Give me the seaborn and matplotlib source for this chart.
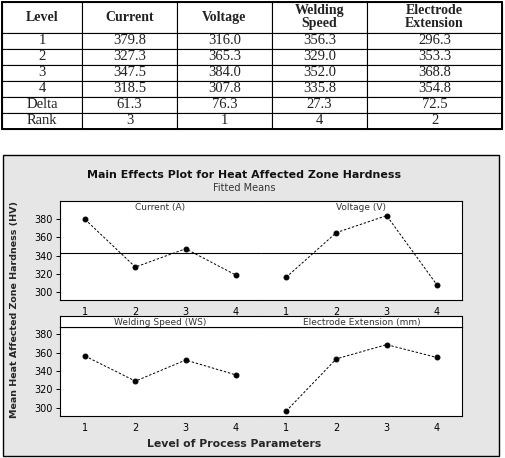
import numpy as np
import pandas as pd
import seaborn as sns
import matplotlib
matplotlib.use("Agg")
import matplotlib.pyplot as plt
from matplotlib.patches import Rectangle

# ---- data ----
levels = [1, 2, 3, 4]
current = [379.8, 327.3, 347.5, 318.5]
voltage = [316.0, 365.3, 384.0, 307.8]
speed = [356.3, 329.0, 352.0, 335.8]
extension = [296.3, 353.3, 368.8, 354.8]
delta = [61.3, 76.3, 27.3, 72.5]
rank = [3, 1, 4, 2]
col_labels = ["Level", "Current", "Voltage", "Welding\nSpeed", "Electrode\nExtension"]
row_labels = ["1", "2", "3", "4", "Delta", "Rank"]
panel_titles = ["Current (A)", "Voltage (V)", "Welding Speed (WS)", "Electrode Extension (mm)"]
yticks = [300, 320, 340, 360, 380]

sns.set_theme(style="white")
plt.rcParams['font.family'] = ['DejaVu Sans']

W, H = 505, 458
fig = plt.figure(figsize=(W / 100, H / 100), dpi=100)
fig.patch.set_facecolor("white")


def box(x0, y0, x1, y1):
    return [x0 / W, 1 - y1 / H, (x1 - x0) / W, (y1 - y0) / H]


# ---- table ----
tax = fig.add_axes(box(2, 2, 502, 129))
tax.set_axis_off()
series = [current, voltage, speed, extension]
cells = []
for i in range(4):
    cells.append([row_labels[i]] + [f"{s[i]:.1f}" for s in series])
cells.append([row_labels[4]] + [f"{d:.1f}" for d in delta])
cells.append([row_labels[5]] + [str(r) for r in rank])
cw = np.array([80, 95, 95, 95, 135], float)
tbl = tax.table(cellText=cells, colLabels=col_labels, colWidths=list(cw / cw.sum()),
                bbox=[0, 0, 1, 1], cellLoc="center")
tbl.auto_set_font_size(False)
hh = 31 / 127
rh = (1 - hh) / len(cells)
for (r, c), cell in tbl.get_celld().items():
    cell.set_linewidth(0.8)
    cell.set_edgecolor("black")
    cell.set_height(hh if r == 0 else rh)
    t = cell.get_text()
    t.set_fontfamily("Liberation Serif")
    t.set_color("#222222")
    if r == 0:
        t.set_fontweight("bold")
        t.set_fontsize(10)
        t.set_linespacing(1.0)
    else:
        t.set_fontsize(10.5)
tax.add_patch(Rectangle((0, 0), 1, 1, transform=tax.transAxes, fill=False,
                        lw=1.4, edgecolor="black", clip_on=False))

# ---- chart frame ----
fig.patches.append(Rectangle((3 / W, 1 - 456 / H), (499 - 3) / W, (456 - 155) / H,
                             transform=fig.transFigure, facecolor="#e6e6e6",
                             edgecolor="black", lw=1.0, zorder=-5))

fig.text(244 / W, 1 - 175 / H, "Main Effects Plot for Heat Affected Zone Hardness",
         ha="center", va="center", fontsize=7.9, fontweight="bold", color="#111111")
fig.text(244 / W, 1 - 188 / H, "Fitted Means", ha="center", va="center",
         fontsize=7, color="#333333")

grand_mean = np.mean(current + voltage + speed + extension)

panels = [
    (current, panel_titles[0], 60, 261, 201, 212, 300, True, True),
    (voltage, panel_titles[1], 261, 462, 201, 212, 300, False, True),
    (speed, panel_titles[2], 60, 261, 316, 327, 416, True, False),
    (extension, panel_titles[3], 261, 462, 316, 327, 416, False, False),
]

for vals, title, x0, x1, ys, yp, yb, left, top in panels:
    ax = fig.add_axes(box(x0, yp, x1, yb))
    df = pd.DataFrame({"Level": levels, "Mean": vals})
    sns.lineplot(data=df, x="Level", y="Mean", ax=ax, color="black", lw=0.7,
                 linestyle=(0, (2.5, 1.8)), marker="o", markersize=3.5,
                 markeredgecolor="black", markerfacecolor="black")
    if top:
        ax.axhline(grand_mean, color="black", lw=0.8)
    ax.set_xlim(0.5, 4.5)
    ax.set_ylim(291, 388)
    ax.set_xticks(levels)
    ax.set_yticks(yticks)
    ax.set_facecolor("white")
    ax.set_xlabel("")
    ax.set_ylabel("")
    ax.tick_params(axis="both", direction="out", length=3, width=0.7,
                   labelsize=7, pad=2, colors="black")
    ax.tick_params(axis="y", left=left, labelleft=left)
    for sp in ax.spines.values():
        sp.set_color("black")
        sp.set_linewidth(0.8)
    ax.spines["right" if left else "left"].set_visible(False)
    if top:
        ax.spines["top"].set_visible(False)
    sax = fig.add_axes(box(x0, ys, x1, yp))
    sax.set_xticks([])
    sax.set_yticks([])
    sax.set_facecolor("white")
    for sp in sax.spines.values():
        sp.set_color("black")
        sp.set_linewidth(0.8)
    sax.spines["right" if left else "left"].set_visible(False)
    if top:
        sax.spines["bottom"].set_visible(False)
    sax.text(0.5, 0.45, title, ha="center", va="center", fontsize=6.5,
             color="#333333", transform=sax.transAxes)

fig.text(15 / W, 1 - 309 / H, "Mean Heat Affected Zone Hardness (HV)", rotation=90,
         ha="center", va="center", fontsize=6.8, fontweight="bold")
fig.text(234 / W, 1 - 444 / H, "Level of Process Parameters", ha="center", va="center",
         fontsize=7.8, fontweight="bold")

fig.savefig("out.png", dpi=100)
